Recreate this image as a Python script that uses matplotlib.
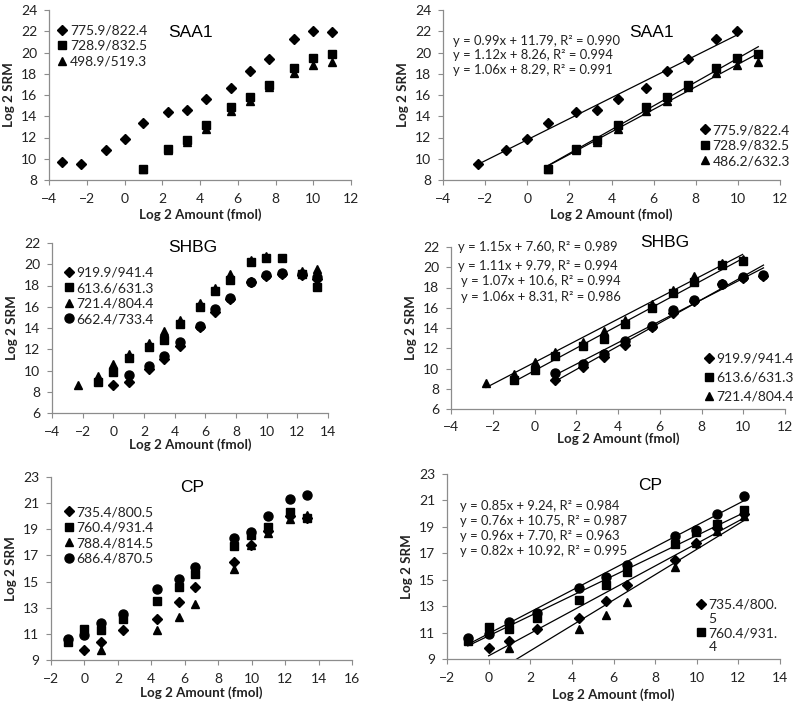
import numpy as np
import matplotlib

matplotlib.use("Agg")
import matplotlib.pyplot as plt
from matplotlib.lines import Line2D

nan = np.nan

# ---------------------------------------------------------------------------
# data (log2 amount in fmol vs log2 SRM)
# ---------------------------------------------------------------------------
saa1_x = [-3.32, -2.32, -1, 0, 1, 2.32, 3.32, 4.32, 5.64, 6.64, 7.64, 8.97, 9.97, 10.97]
saa1_d = [9.7, 9.5, 10.8, 11.9, 13.4, 14.4, 14.6, 15.6, 16.7, 18.3, 19.4, 21.3, 22.0, 21.9]
saa1_s = [nan, nan, nan, nan, 9.0, 10.9, 11.8, 13.2, 14.9, 15.8, 16.9, 18.5, 19.5, 19.9]
saa1_t = [nan, nan, nan, nan, 9.0, 10.8, 11.6, 12.8, 14.5, 15.4, 16.8, 18.1, 18.8, 19.1]
saa1_labels_left = ["775.9/822.4", "728.9/832.5", "498.9/519.3"]
saa1_labels_right = ["775.9/822.4", "728.9/832.5", "486.2/632.3"]
saa1_slope = [0.99, 1.12, 1.06]
saa1_icpt = ["11.79", "8.26", "8.29"]
saa1_r2 = [0.990, 0.994, 0.991]
saa1_fit_lo = [-2.32, 1, 1]
saa1_fit_hi = [9.97, 10.97, 10.97]

shbg_x = [-2.32, -1, 0, 1, 2.32, 3.32, 4.32, 5.64, 6.64, 7.64, 8.97, 9.97, 10.97, 12.29, 13.29]
shbg_d = [nan, nan, 8.6, 8.9, 10.1, 11.1, 12.3, 14.1, 15.5, 16.7, 18.3, 18.9, 19.1, 19.0, 18.6]
shbg_s = [nan, 8.9, 9.9, 11.2, 12.2, 12.9, 14.4, 16.0, 17.5, 18.5, 20.2, 20.6, 20.6, 19.1, 17.9]
shbg_t = [8.6, 9.5, 10.6, 11.6, 12.6, 13.7, 14.8, 16.4, 17.8, 19.1, 20.4, 20.8, nan, 19.4, 19.6]
shbg_c = [nan, nan, nan, 9.6, 10.4, 11.4, 12.7, 14.2, 15.8, 16.8, 18.3, 19.0, 19.2, 19.1, 18.8]
shbg_labels = ["919.9/941.4", "613.6/631.3", "721.4/804.4", "662.4/733.4"]
shbg_slope = [1.15, 1.11, 1.07, 1.06]
shbg_icpt = ["7.60", "9.79", "10.6", "8.31"]
shbg_r2 = [0.989, 0.994, 0.994, 0.986]
shbg_fit_lo = [1, -1, -2.32, 1]
shbg_fit_hi = [10.97, 9.97, 9.97, 10.97]

cp_x = [-1, 0, 1, 2.32, 4.32, 5.64, 6.64, 8.97, 9.97, 10.97, 12.29, 13.29]
cp_d = [nan, 9.8, 10.4, 11.3, 12.1, 13.4, 14.6, 16.5, 17.8, 18.9, 20.0, 19.9]
cp_s = [10.4, 11.4, 11.3, 12.1, 13.5, 14.6, 15.6, 17.7, 18.6, 19.2, 20.3, 19.9]
cp_t = [nan, nan, 9.8, nan, 11.3, 12.3, 13.3, 16.0, 17.8, 18.7, 19.8, 20.1]
cp_c = [10.6, 10.9, 11.8, 12.5, 14.4, 15.2, 16.1, 18.3, 18.8, 20.0, 21.3, 21.6]
cp_labels = ["735.4/800.5", "760.4/931.4", "788.4/814.5", "686.4/870.5"]
cp_labels_right = ["735.4/800.\n5", "760.4/931.\n4"]
cp_slope = [0.85, 0.76, 0.96, 0.82]
cp_icpt = ["9.24", "10.75", "7.70", "10.92"]
cp_r2 = [0.984, 0.987, 0.963, 0.995]
cp_fit_lo = [0, -1, 1, -1]
cp_fit_hi = [12.29, 12.29, 12.29, 12.29]

# ---------------------------------------------------------------------------
# styling
# ---------------------------------------------------------------------------
plt.rcParams["font.family"] = ["Lato", "DejaVu Sans"]
W, H = 800, 709
_SPINE = "#8c8c8c"
_TXT = "#222222"
MARKERS = [("D", 4.8), ("s", 5.3), ("^", 6.3), ("o", 6.5)]


def _axes(fig, l, r, t, b):
    return fig.add_axes([l / W, 1 - b / H, (r - l) / W, (b - t) / H])


def _style(ax, xlim, xticks, ylim, yticks, xpad=2, ypad=4, tpad=6):
    ax.set_xlim(*xlim)
    ax.set_ylim(*ylim)
    ax.set_xticks(xticks)
    ax.set_yticks(yticks)
    for s in ("top", "right"):
        ax.spines[s].set_visible(False)
    for s in ("left", "bottom"):
        ax.spines[s].set_color(_SPINE)
        ax.spines[s].set_linewidth(0.9)
    ax.tick_params(direction="out", length=3.5, width=0.8, color=_SPINE,
                   labelsize=10, labelcolor=_TXT)
    ax.tick_params(axis="x", pad=tpad)
    ax.tick_params(axis="y", pad=5)
    ax.set_xlabel("Log 2 Amount (fmol)", fontsize=9.6, fontweight="bold",
                  color=_TXT, labelpad=xpad)
    ax.set_ylabel("Log 2 SRM", fontsize=9.6, fontweight="bold", color=_TXT,
                  labelpad=ypad)


def _title(ax, txt, x, y):
    ax.text(x, y, txt, transform=ax.transAxes, ha="center", va="center",
            fontsize=12.5, family="Liberation Sans", color="black")


def _points(ax, x, series, lo=None, hi=None):
    x = np.asarray(x, dtype=float)
    for k, ys in enumerate(series):
        ys = np.asarray(ys, dtype=float)
        m = np.isfinite(ys)
        if lo is not None:
            m &= (x >= lo[k] - 1e-9) & (x <= hi[k] + 1e-9)
        mk, ms = MARKERS[k]
        ax.plot(x[m], ys[m], ls="none", marker=mk, ms=ms, color="black",
                zorder=3, clip_on=False)


def _fits(ax, slopes, icpts, lo, hi):
    for a, b, x0, x1 in zip(slopes, icpts, lo, hi):
        xs = np.array([x0, x1])
        ax.plot(xs, a * xs + float(b), color="black", lw=0.9, zorder=2)


def _equations(ax, slopes, icpts, r2, x, ys):
    for a, b, r, xx, yy in zip(slopes, icpts, r2, x, ys):
        ax.text(xx, yy, f"y = {a:.2f}x + {b}, R\u00b2 = {r:.3f}",
                transform=ax.transAxes, ha="left", va="center",
                fontsize=9.4, color=_TXT)


def _legend(ax, labels, anchor, loc="upper left", spacing=0.25, top=False):
    handles = [Line2D([], [], ls="none", marker=MARKERS[k][0],
                      ms=MARKERS[k][1], color="black")
               for k in range(len(labels))]
    leg = ax.legend(handles, labels, loc=loc, bbox_to_anchor=anchor,
                    frameon=False, fontsize=10, handlelength=0.6,
                    handletextpad=0.25, labelspacing=spacing, borderpad=0,
                    borderaxespad=0, numpoints=1)
    for t in leg.get_texts():
        t.set_color(_TXT)
    if top:  # marker level with the first line of a wrapped label
        for col in leg._legend_handle_box.get_children():
            for row in col.get_children():
                row.align = "top"
    return leg


fig = plt.figure(figsize=(W / 100, H / 100), dpi=100)

# --- SAA1 left ------------------------------------------------------------
ax = _axes(fig, 49, 351, 10, 180)
_style(ax, (-4, 12), range(-4, 13, 2), (8, 24), range(8, 25, 2))
_points(ax, saa1_x, [saa1_d, saa1_s, saa1_t])
_title(ax, "SAA1", 0.47, 0.87)
_legend(ax, saa1_labels_left, (0.03, 0.915))

# --- SAA1 right -----------------------------------------------------------
ax = _axes(fig, 443, 780, 10, 180)
_style(ax, (-4, 12), range(-4, 13, 2), (8, 24), range(8, 25, 2))
_points(ax, saa1_x, [saa1_d, saa1_s, saa1_t], saa1_fit_lo, saa1_fit_hi)
_fits(ax, saa1_slope, saa1_icpt, saa1_fit_lo, saa1_fit_hi)
_title(ax, "SAA1", 0.62, 0.87)
_equations(ax, saa1_slope, saa1_icpt, saa1_r2, [0.03] * 3, [0.82, 0.735, 0.647])
_legend(ax, saa1_labels_right, (0.765, 0.075), loc="lower left", spacing=0.25)

# --- SHBG left ------------------------------------------------------------
ax = _axes(fig, 52, 328, 243, 413)
_style(ax, (-4, 14), range(-4, 15, 2), (6, 22), range(6, 23, 2), xpad=0)
_points(ax, shbg_x, [shbg_d, shbg_s, shbg_t, shbg_c])
_title(ax, "SHBG", 0.51, 0.975)
_legend(ax, shbg_labels, (0.045, 0.86), spacing=0.25)

# --- SHBG right -----------------------------------------------------------
ax = _axes(fig, 451, 785, 247, 409)
_style(ax, (-4, 12), range(-4, 13, 2), (6, 22), range(6, 23, 2), xpad=0, tpad=5)
_points(ax, shbg_x, [shbg_d, shbg_s, shbg_t, shbg_c], shbg_fit_lo, shbg_fit_hi)
_fits(ax, shbg_slope, shbg_icpt, shbg_fit_lo, shbg_fit_hi)
_title(ax, "SHBG", 0.64, 1.025)
_equations(ax, shbg_slope, shbg_icpt, shbg_r2,
           [0.02, 0.02, 0.03, 0.03], [1.0, 0.88, 0.79, 0.69])
_legend(ax, shbg_labels[:3], (0.76, 0.04), loc="lower left", spacing=0.5)

# --- CP left --------------------------------------------------------------
ax = _axes(fig, 51, 352, 477, 660)
_style(ax, (-2, 16), range(-2, 17, 2), (9, 23), range(9, 24, 2), xpad=1)
_points(ax, cp_x, [cp_d, cp_s, cp_t, cp_c])
_title(ax, "CP", 0.47, 0.94)
_legend(ax, cp_labels, (0.045, 0.84), spacing=0.25)

# --- CP right -------------------------------------------------------------
ax = _axes(fig, 447, 780, 474, 659)
_style(ax, (-2, 14), range(-2, 15, 2), (9, 23), range(9, 24, 2), xpad=3)
_points(ax, cp_x, [cp_d, cp_s, cp_t, cp_c], cp_fit_lo, cp_fit_hi)
_fits(ax, cp_slope, cp_icpt, cp_fit_lo, cp_fit_hi)
_title(ax, "CP", 0.61, 0.94)
_equations(ax, cp_slope, cp_icpt, cp_r2, [0.04] * 4, [0.825, 0.745, 0.665, 0.585])
_legend(ax, cp_labels_right, (0.75, 0.03), loc="lower left", spacing=0.2, top=True)

fig.savefig("out.png", dpi=100)
